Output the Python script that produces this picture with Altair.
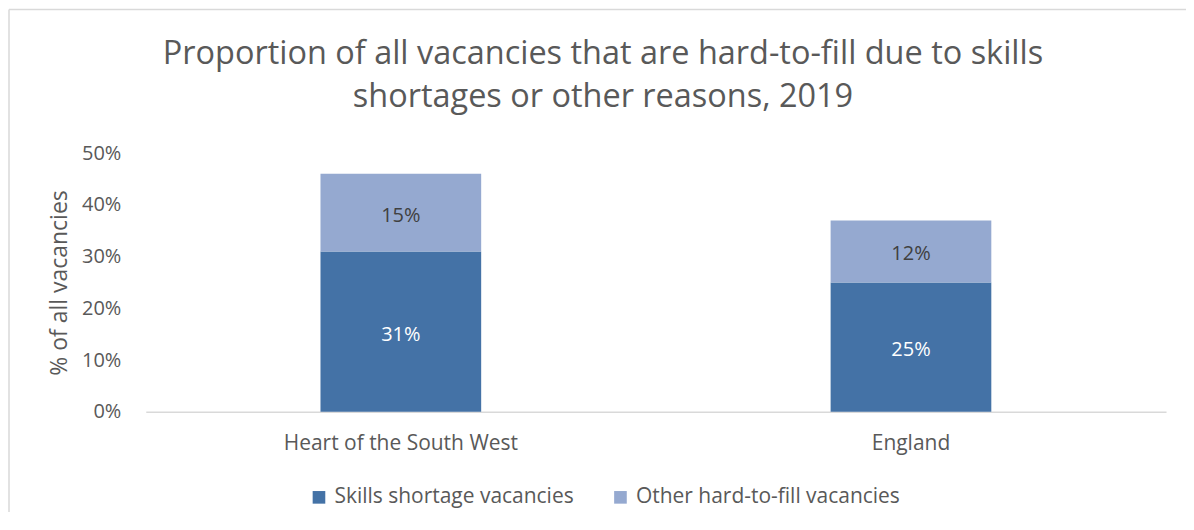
import altair as alt
import pandas as pd

regions = ["Heart of the South West", "England"]
skills_shortage = [31, 25]
other_hard_to_fill = [15, 12]
series_names = ["Skills  shortage vacancies", "Other hard-to-fill vacancies"]
series_colors = ["#4472a6", "#95a9d0"]
label_colors = ["#ffffff", "#404040"]
y_ticks = [0, 10, 20, 30, 40, 50]
title_lines = ["Proportion of all vacancies that are hard-to-fill due to skills",
               "shortages or other reasons, 2019"]

rows = []
for i, r in enumerate(regions):
    rows.append({"region": r, "series": series_names[0], "value": skills_shortage[i], "ord": 0})
    rows.append({"region": r, "series": series_names[1], "value": other_hard_to_fill[i], "ord": 1})
df = pd.DataFrame(rows)

FONT = "Open Sans"
GREY = "#595959"

base = alt.Chart(df).transform_stack(
    stack="value", groupby=["region"], as_=["y0", "y1"], sort=[alt.SortField("ord")]
).transform_calculate(
    ymid="(datum.y0 + datum.y1) / 2",
    lab="datum.value + '%'"
)

x_enc = alt.X(
    "region:N",
    sort=regions,
    title=None,
    scale=alt.Scale(paddingInner=0.685, paddingOuter=0.3425),
    axis=alt.Axis(
        labelAngle=0, labelFont=FONT, labelFontSize=21, labelColor=GREY, labelLimit=0,
        labelPadding=21, ticks=False, domainColor="#d9d9d9", domainWidth=1.5,
    ),
)

bars = base.mark_bar().encode(
    x=x_enc,
    y=alt.Y(
        "y0:Q",
        scale=alt.Scale(domain=[0, 50]),
        title="% of all vacancies",
        axis=alt.Axis(
            values=y_ticks, labelExpr="datum.value + '%'", grid=False, domain=False,
            ticks=False, labelFont=FONT, labelFontSize=20, labelColor=GREY,
            labelPadding=25, titleFont=FONT, titleFontSize=23, titleFontWeight="normal",
            titleColor=GREY, titlePadding=10,
        ),
    ),
    y2="y1:Q",
    color=alt.Color(
        "series:N",
        scale=alt.Scale(domain=series_names, range=series_colors),
        legend=alt.Legend(
            title=None, orient="none", direction="horizontal", legendX=163, legendY=334,
            labelFont=FONT, labelFontSize=21, labelColor=GREY, symbolType="square",
            symbolSize=160, symbolStrokeWidth=0, columnPadding=30, labelOffset=5, padding=0,
            labelLimit=0,
        ),
    ),
    order=alt.Order("ord:Q"),
)

labels = base.mark_text(font=FONT, fontSize=20, baseline="middle", dy=3).encode(
    x=alt.X("region:N", sort=regions),
    y=alt.Y("ymid:Q"),
    text="lab:N",
    color=alt.Color("series:N", scale=alt.Scale(domain=series_names, range=label_colors), legend=None),
)

one = pd.DataFrame({"a": [0]})
title1 = alt.Chart(one).mark_text(
    font=FONT, fontSize=32.5, color=GREY, align="center", baseline="alphabetic"
).encode(x=alt.value(458), y=alt.value(-89), text=alt.value(title_lines[0]))
title2 = alt.Chart(one).mark_text(
    font=FONT, fontSize=32.5, color=GREY, align="center", baseline="alphabetic"
).encode(x=alt.value(458), y=alt.value(-46), text=alt.value(title_lines[1]))

border_top = alt.Chart(one).mark_rule(color="#d9d9d9", strokeWidth=1.5).encode(
    x=alt.value(-137), x2=alt.value(1060), y=alt.value(-144)
)
border_left = alt.Chart(one).mark_rule(color="#d9d9d9", strokeWidth=1.5).encode(
    x=alt.value(-137), y=alt.value(-144), y2=alt.value(400)
)

chart = alt.layer(bars, labels, title1, title2, border_top, border_left).resolve_scale(
    color="independent"
).properties(
    width=1022,
    height=259,
    autosize=alt.AutoSizeParams(type="none"),
    padding={"left": 138, "top": 145, "right": 20, "bottom": 100},
).configure_view(stroke=None)

chart.save("out.html", embed_options={"renderer": "svg", "actions": False})
